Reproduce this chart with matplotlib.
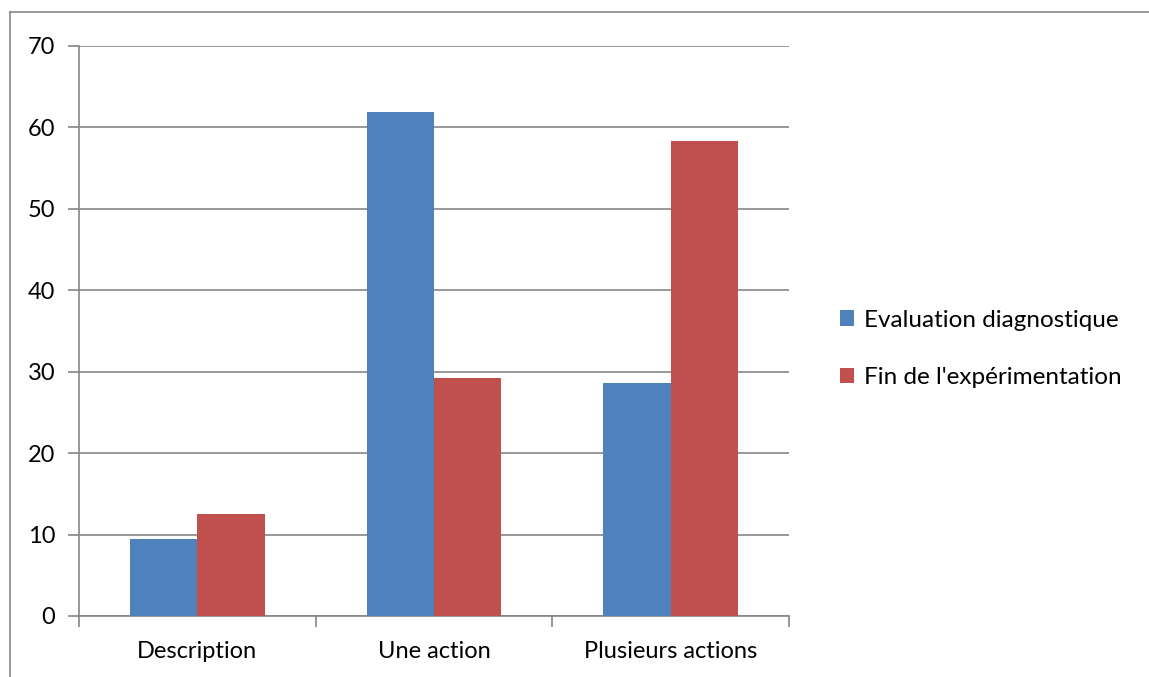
import matplotlib.pyplot as plt
import matplotlib.lines as mlines
import numpy as np

categories = ["Description", "Une action", "Plusieurs actions"]
series_names = ["Evaluation diagnostique", "Fin de l'expérimentation"]
evaluation = [9.5, 61.9, 28.6]
fin_experimentation = [12.5, 29.2, 58.3]
colors = ["#4F81BD", "#C0504D"]

plt.rcParams["font.family"] = ["Lato", "DejaVu Sans"]

fig = plt.figure(figsize=(11.49, 6.77), dpi=100)
ax = fig.add_axes([79 / 1149, 61 / 677, 710 / 1149, 570 / 677])

x = np.arange(len(categories))
width = 0.285
ax.bar(x - width / 2, evaluation, width, color=colors[0], label=series_names[0], zorder=3)
ax.bar(x + width / 2, fin_experimentation, width, color=colors[1], label=series_names[1], zorder=3)

ax.set_xlim(-0.5, 2.5)
ax.set_ylim(0, 70)
ax.set_yticks(range(0, 71, 10))
ax.yaxis.grid(True, color="#868686", linewidth=1.2, zorder=0)

ax.set_xticks(x)
ax.set_xticklabels(categories, fontsize=17)
ax.tick_params(axis="x", length=0, pad=18)
ax.set_xticks([-0.5, 0.5, 1.5, 2.5], minor=True)
ax.tick_params(axis="x", which="minor", length=8, color="#868686", width=1.2)
ax.tick_params(axis="y", length=8, color="#868686", width=1.2, labelsize=17, pad=9)

for side in ["top", "right"]:
    ax.spines[side].set_visible(False)
for side in ["left", "bottom"]:
    ax.spines[side].set_color("#868686")
    ax.spines[side].set_linewidth(1.2)

fig.legend(
    loc="center left",
    bbox_to_anchor=(818 / 1149, 1 - 349 / 677),
    frameon=False,
    fontsize=17.5,
    handlelength=0.6,
    handleheight=0.6,
    handletextpad=0.4,
    labelspacing=1.5,
)

# outer chart border (top and left only visible in the crop)
bx = 9.5 / 1149
by = 1 - 11.5 / 677
fig.lines.append(mlines.Line2D([bx, 1.0], [by, by], transform=fig.transFigure,
                               color="#888888", linewidth=1.2))
fig.lines.append(mlines.Line2D([bx, bx], [0.0, by], transform=fig.transFigure,
                               color="#888888", linewidth=1.2))

fig.savefig("out.png", dpi=100)
